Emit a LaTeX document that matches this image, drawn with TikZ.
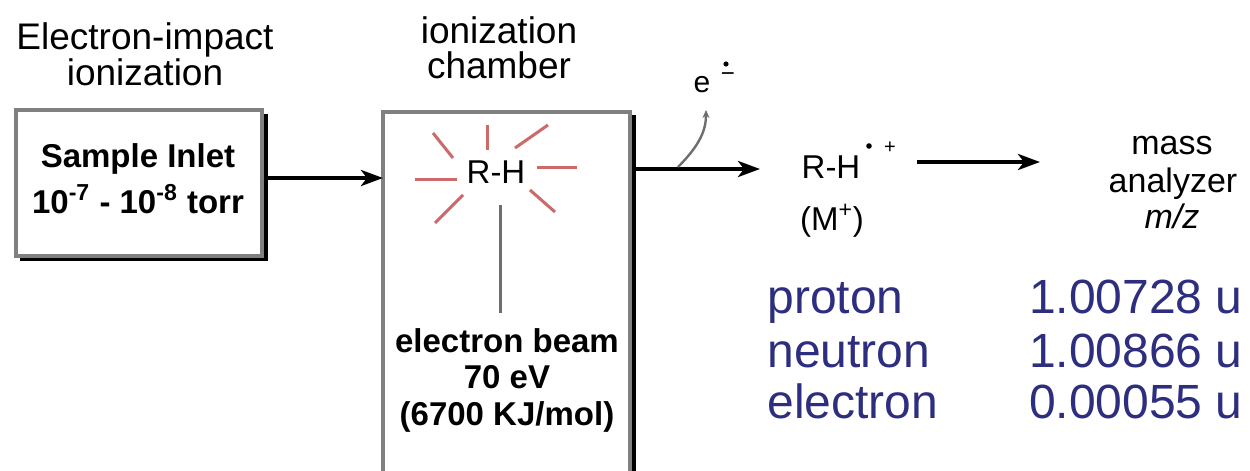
\documentclass[tikz,border=0pt]{standalone}
\usepackage{fontspec}
\setmainfont{Liberation Sans}
\usetikzlibrary{arrows.meta}
\definecolor{boxgray}{RGB}{128,128,128}
\definecolor{raycol}{RGB}{205,105,105}
\definecolor{tabblue}{RGB}{46,46,128}
\definecolor{beamgray}{RGB}{110,110,110}
\begin{document}
\begin{tikzpicture}[x=0.5pt,y=-0.5pt,
  lbl/.style={anchor=base,inner sep=0pt,font=\fontsize{18.5}{20}\selectfont},
  twolbl/.style={anchor=north,inner sep=0pt,align=center,font=\fontsize{18.5}{15.5}\selectfont},
  blbl/.style={anchor=base,inner sep=0pt,font=\fontsize{16.5}{18}\selectfont\bfseries},
  mlbl/.style={anchor=base,inner sep=0pt,font=\fontsize{16.5}{18}\selectfont},
  tab/.style={inner sep=0pt,text=tabblue,font=\fontsize{24}{26}\selectfont},
  boxline/.style={draw=boxgray,line width=1.6pt},
  shadowline/.style={draw=black,line width=1.8pt},
  arr/.style={draw=black,line width=2pt,-{Stealth[length=11pt,width=8pt,inset=3pt]}},
  ray/.style={draw=raycol,line width=1.5pt},
  thinarr/.style={draw=beamgray,line width=1.2pt,-{Stealth[length=4pt,width=3.5pt]}}
]
\useasboundingbox (0,0) rectangle (1250,471);
\fill[white] (0,0) rectangle (1250,471);

% labels on top
\node[twolbl] (eilab) at (145,22) {Electron-impact\\ionization};
\node[lbl] (chlab1) at (499,43) {ionization};
\node[lbl] (chlab2) at (499,78) {chamber};

% sample inlet box with shadow
\draw[shadowline] (266,114) -- (266,259) -- (20,259);
\node[boxline,fill=white,minimum width=123pt,minimum height=73pt,inner sep=0pt] (sample) at (139,183) {};
\node[blbl] (s1) at (138,167) {Sample Inlet};
\node[blbl] (s2) at (138,213) {10\textsuperscript{-7} - 10\textsuperscript{-8} torr};

% ionization chamber (open at bottom)
\coordinate (chTL) at (383,112);
\coordinate (chTR) at (630,112);
\coordinate (chBL) at (383,480);
\coordinate (chBR) at (630,480);
\draw[boxline] (chBL) -- (chTL) -- (chTR) -- (chBR);
\draw[shadowline] (634,115) -- (634,480);

% R-H with rays
\node[mlbl] (rh) at (496,183) {R-H};
\draw[ray] (415,179) -- (457,179);
\draw[ray] (537,167) -- (577,167);
\draw[ray] (487,125) -- (487,150);
\draw[ray] (433,133) -- (453,158);
\draw[ray] (515,148) -- (548,125);
\draw[ray] (463,195) -- (435,223);
\draw[ray] (530,190) -- (555,212);

% electron beam
\node[blbl] (eb1) at (507,352) {electron beam};
\node[blbl] (eb2) at (507,388) {70 eV};
\node[blbl] (eb3) at (507,425) {(6700 KJ/mol)};
\coordinate (beamtop) at (500,205);
\coordinate (beambot) at (500,313);
\draw[draw=beamgray,line width=1.5pt] (beambot) -- (beamtop);

% arrow sample -> chamber
\coordinate (chin) at (383,178);
\draw[arr] (sample.east |- chin) -- (chin);

% arrow chamber -> ion
\coordinate (chout) at (636,169);
\coordinate (ionin) at (760,169);
\draw[arr] (chout) -- (ionin);

% electron leaving
\coordinate (estart) at (678,167);
\coordinate (eend) at (706,110);
\draw[thinarr] (estart) .. controls (700,145) and (706,130) .. (eend);
\node[anchor=base,inner sep=0pt,font=\fontsize{15}{16}\selectfont] (elec) at (702,92) {e};
\node[inner sep=0pt,font=\fontsize{12}{14}\selectfont] (eminus) at (728,77) {−};
\fill[black] (726,64) circle (1.3pt);

% molecular ion
\node[mlbl] (ion) at (831,178) {R-H};
\fill[black] (869,146) circle (1.4pt);
\node[inner sep=0pt,font=\fontsize{10}{12}\selectfont] (ionplus) at (890,148) {+};
\node[mlbl] (mplus) at (832,230) {(M\textsuperscript{+})};

% arrow to analyzer
\coordinate (a3s) at (917,162);
\coordinate (a3e) at (1040,162);
\draw[arr] (a3s) -- (a3e);

\node[lbl,font=\fontsize{17}{19}\selectfont] (ma1) at (1172,155) {mass};
\node[lbl,font=\fontsize{17}{19}\selectfont] (ma2) at (1173,192) {analyzer};
\node[lbl,font=\fontsize{17}{19}\selectfont\itshape] (ma3) at (1172,228) {m/z};

% masses table
\node[tab,anchor=base west] (p1) at (767,313) {proton};
\node[tab,anchor=base west] (n1) at (767,367) {neutron};
\node[tab,anchor=base west] (e1) at (767,418) {electron};
\node[tab,anchor=base east] (p2) at (1243,313) {1.00728 u};
\node[tab,anchor=base east] (n2) at (1243,367) {1.00866 u};
\node[tab,anchor=base east] (e2) at (1243,418) {0.00055 u};
\end{tikzpicture}
\end{document}
